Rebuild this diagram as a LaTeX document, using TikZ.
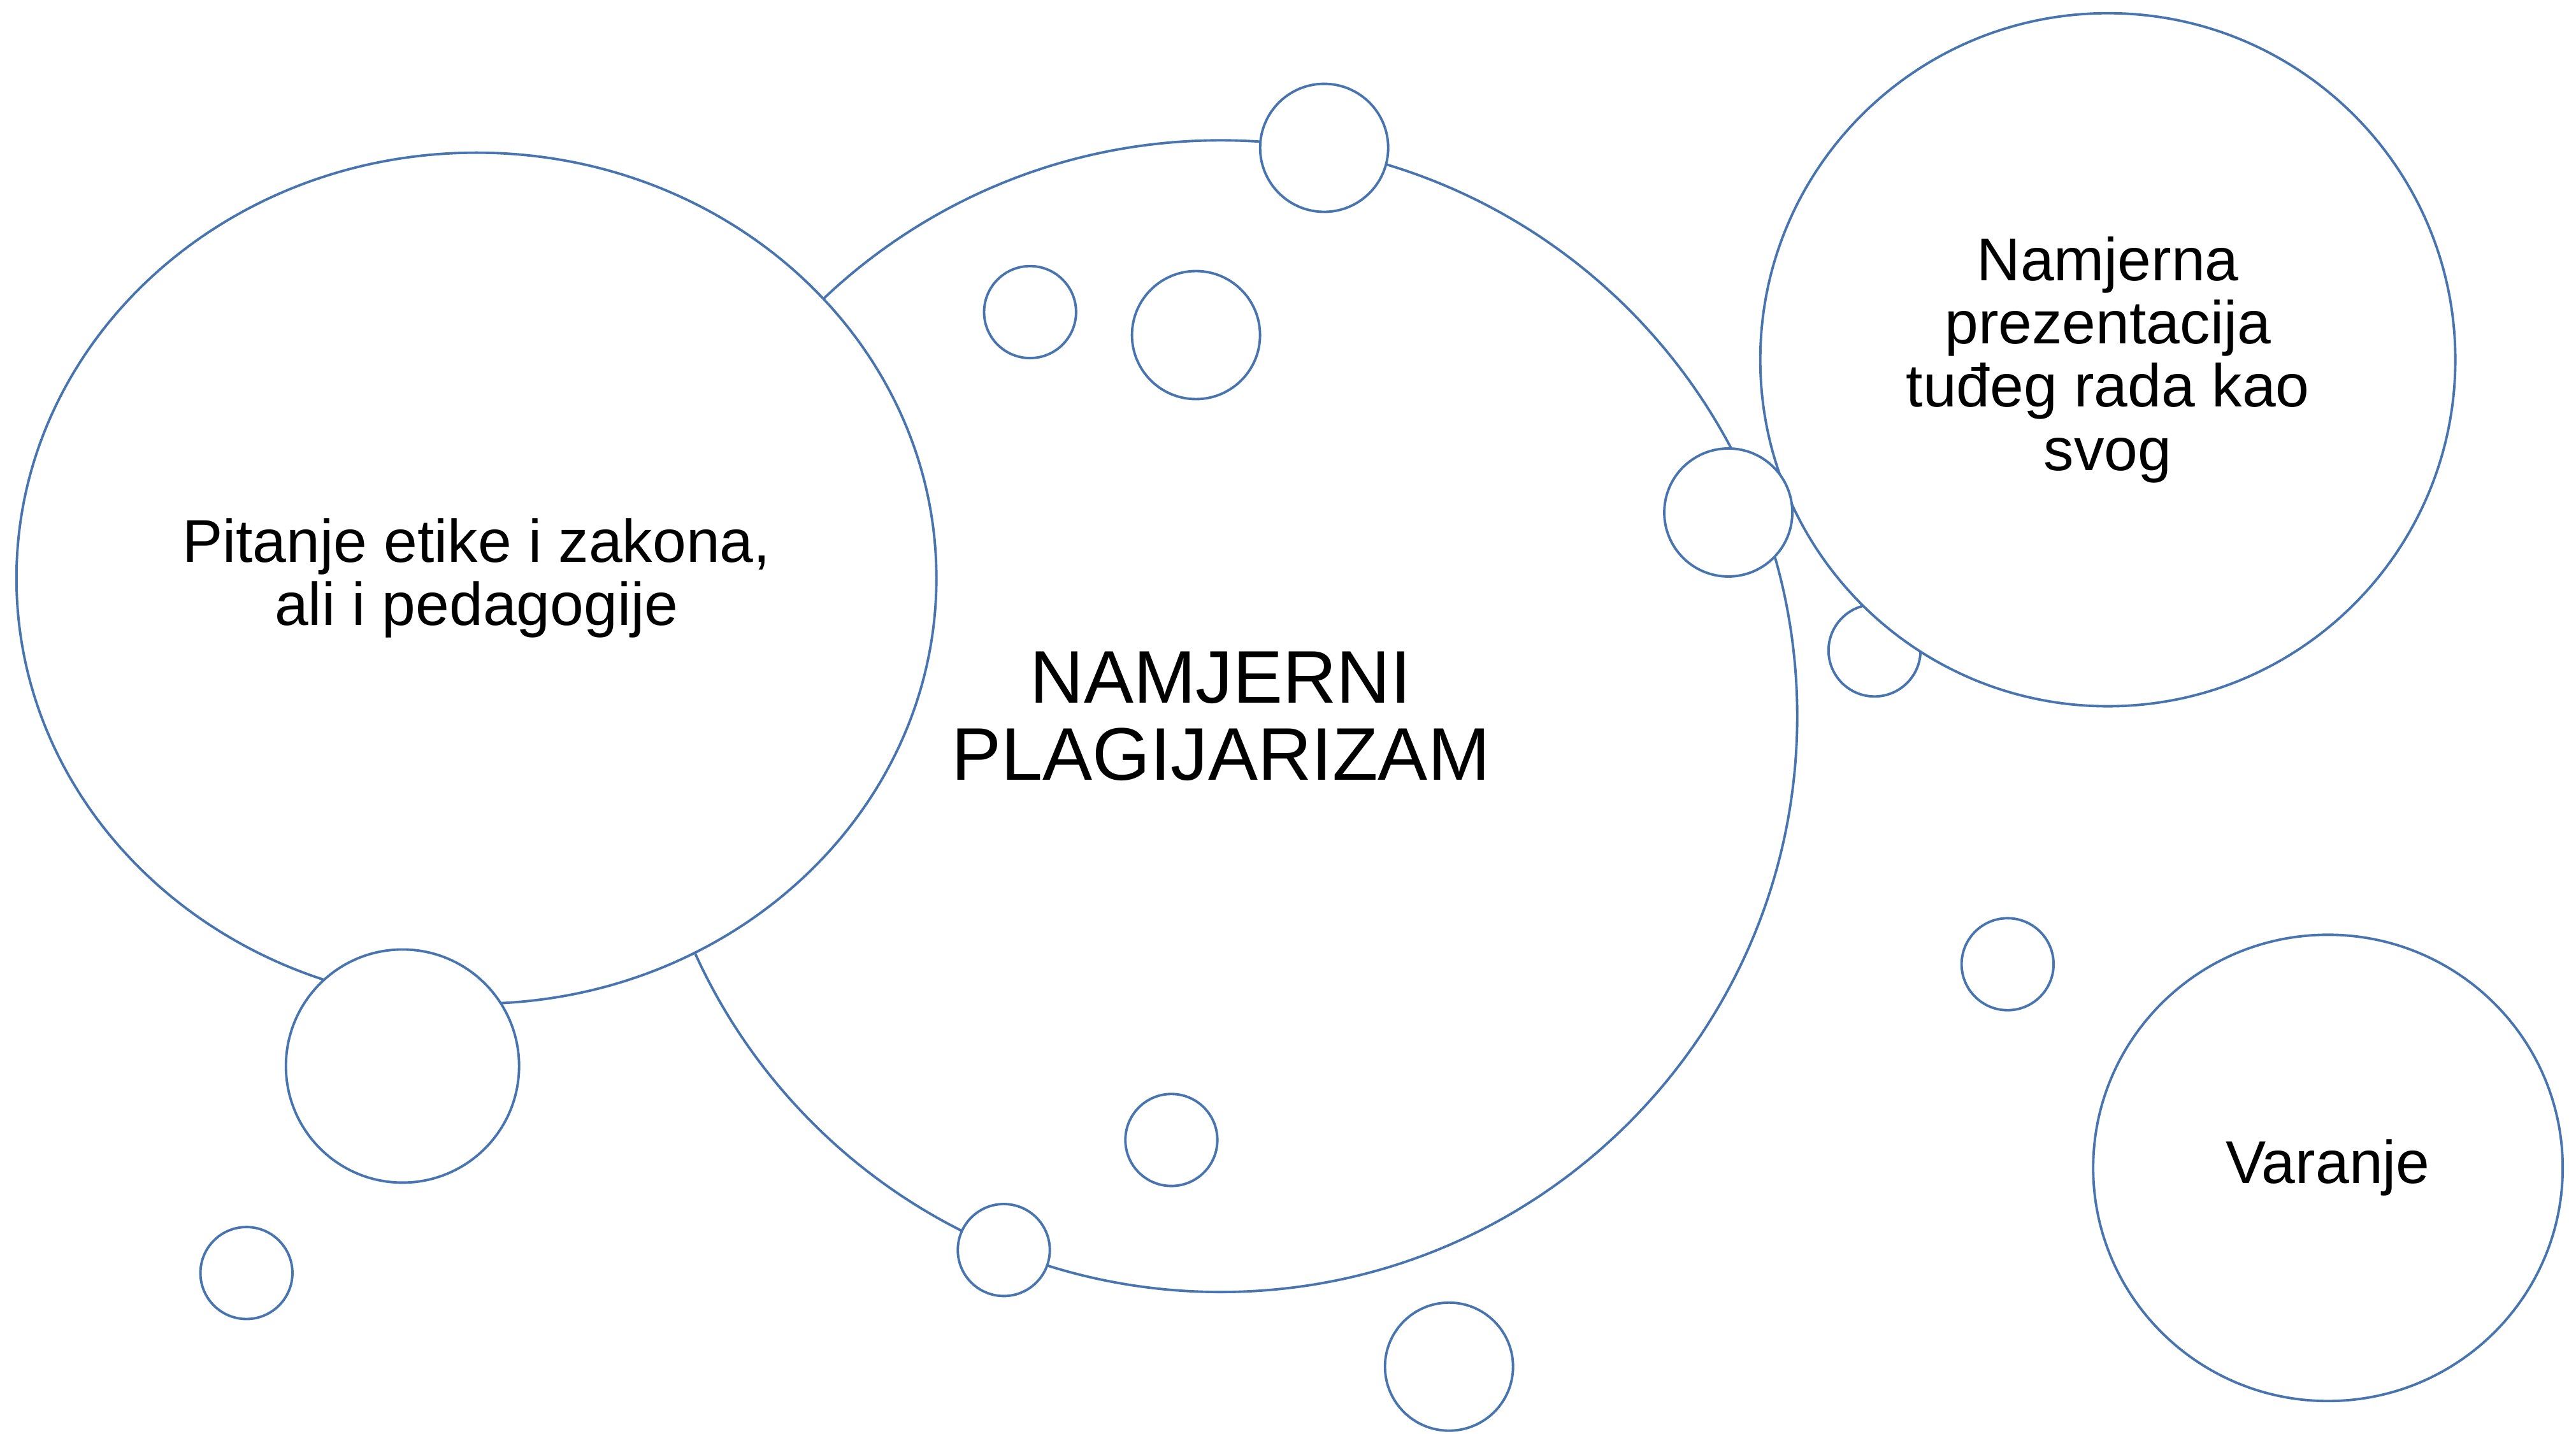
\documentclass[tikz,border=0pt]{standalone}
\usepackage{fontspec}
\setmainfont{Liberation Sans}
\usetikzlibrary{shapes.geometric}
\definecolor{bubbleblue}{RGB}{72,117,175}
\begin{document}
\begin{tikzpicture}[line cap=round,line join=round,x=0.025785cm,y=-0.025785cm,
  bubble/.style={draw=bubbleblue,line width=1.1pt,fill=white,inner sep=0pt,align=center},
  oval/.style={bubble,ellipse},
  dot/.style={bubble,circle},
  txt/.style={font=\fontsize{27}{28.3}\selectfont},
  bigtxt/.style={font=\fontsize{33.3}{34.5}\selectfont}]
\useasboundingbox (0,0) rectangle (1568,873);
\node[oval,bigtxt,minimum width=18.10cm,minimum height=18.08cm] (plag) at (743,436) {NAMJERNI\\PLAGIJARIZAM};
\node[dot,minimum size=1.444cm] (b5) at (1141,396) {};
\node[oval,txt,minimum width=14.44cm,minimum height=13.36cm] (ethics) at (290,352) {Pitanje etike i zakona,\\ali i pedagogije};
\node[oval,txt,minimum width=10.91cm,minimum height=10.88cm] (intent) at (1283,219) {Namjerna\\prezentacija\\tuđeg rada kao\\svog};
\node[oval,txt,minimum width=7.37cm,minimum height=7.32cm] (cheat) at (1417,711) {Varanje};
\node[dot,minimum size=2.01cm] (b1) at (806,90) {};
\node[dot,minimum size=1.444cm] (b2) at (627,190) {};
\node[dot,minimum size=2.01cm] (b3) at (728,204) {};
\node[dot,minimum size=2.01cm] (b4) at (1052,312) {};
\node[dot,minimum size=1.444cm] (b6) at (1222,587) {};
\node[dot,minimum size=1.444cm] (b7) at (713,694) {};
\node[dot,minimum size=1.444cm] (b8) at (611,761) {};
\node[dot,minimum size=2.01cm] (b9) at (882,832) {};
\node[dot,minimum size=3.66cm] (b10) at (245,649) {};
\node[dot,minimum size=1.444cm] (b11) at (150,775) {};
\end{tikzpicture}
\end{document}
